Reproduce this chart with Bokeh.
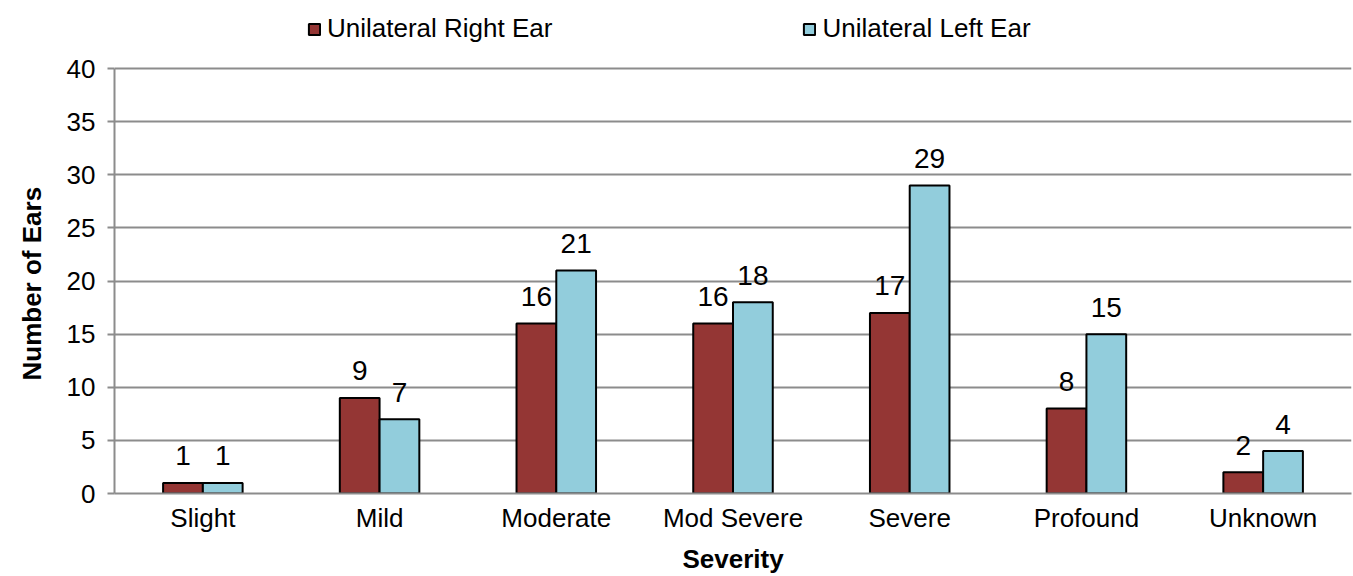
from bokeh.plotting import figure
from bokeh.models import ColumnDataSource, FactorRange, Legend, LegendItem, FixedTicker, Range1d, Title
from bokeh.transform import dodge
from bokeh.core.properties import value
from bokeh.embed import file_html
from bokeh.resources import INLINE

categories = ["Slight", "Mild", "Moderate", "Mod Severe", "Severe", "Profound", "Unknown"]
right_ear = [1, 9, 16, 16, 17, 8, 2]
left_ear = [1, 7, 21, 18, 29, 15, 4]
series_names = ["Unilateral Right Ear", "Unilateral Left Ear"]
y_ticks = [0, 5, 10, 15, 20, 25, 30, 35, 40]

RED = "#943634"
BLUE = "#92CDDC"
GRID = "#8C8C8C"
FONT = "Liberation Sans"

src = ColumnDataSource(data=dict(
    cat=categories,
    right=right_ear,
    left=left_ear,
    right_lab=[str(v) for v in right_ear],
    left_lab=[str(v) for v in left_ear],
))

# extra headroom above 40 keeps the legend inside the frame (axis bounded to 0..40)
p = figure(x_range=FactorRange(*categories, range_padding=0), y_range=Range1d(0, 46.4),
           width=1353, height=576, output_backend="svg", toolbar_location=None,
           min_border_left=112, min_border_right=2, min_border_top=0, min_border_bottom=83)

bw = 0.225
r1 = p.vbar(x=dodge("cat", -bw / 2, range=p.x_range), top="right", width=bw, source=src,
            fill_color=RED, line_color="black", line_width=2)
r2 = p.vbar(x=dodge("cat", bw / 2, range=p.x_range), top="left", width=bw, source=src,
            fill_color=BLUE, line_color="black", line_width=2)

p.text(x=dodge("cat", -bw / 2, range=p.x_range), y="right", text="right_lab", source=src,
       text_align="center", text_baseline="alphabetic", y_offset=-27,
       text_font=value(FONT), text_font_size="28px", text_color="black")
p.text(x=dodge("cat", bw / 2, range=p.x_range), y="left", text="left_lab", source=src,
       text_align="center", text_baseline="alphabetic", y_offset=-27,
       text_font=value(FONT), text_font_size="28px", text_color="black")

p.outline_line_color = None
p.xgrid.grid_line_color = None
p.ygrid.grid_line_color = GRID
p.ygrid.grid_line_width = 2
p.yaxis.ticker = FixedTicker(ticks=y_ticks)
p.yaxis.bounds = (0, 40)

for ax in (p.xaxis[0], p.yaxis[0]):
    ax.axis_line_color = GRID
    ax.axis_line_width = 2
    ax.major_label_text_font = FONT
    ax.major_label_text_font_size = "26px"
    ax.major_label_text_color = "black"
    ax.axis_label_text_font = FONT
    ax.axis_label_text_font_size = "26px"
    ax.axis_label_text_font_style = "bold"
    ax.axis_label_text_color = "black"
    ax.minor_tick_line_color = None

p.xaxis.axis_label = "Severity"
p.xaxis.major_tick_line_color = None
p.xaxis.major_tick_out = 0
p.xaxis.major_tick_in = 0
p.xaxis.major_label_standoff = 9
p.xaxis.axis_label_standoff = 8

p.yaxis.major_tick_line_color = GRID
p.yaxis.major_tick_line_width = 2
p.yaxis.major_tick_out = 7
p.yaxis.major_tick_in = 0
p.yaxis.major_label_standoff = 12

# y-axis title, centred on the 0..40 span rather than the whole frame
ytitle = Title(text="Number of Ears", align="left", vertical_align="middle", offset=113,
               standoff=31, text_font=FONT, text_font_size="26px", text_font_style="bold",
               text_color="black")
p.add_layout(ytitle, "left")

legend = Legend(items=[LegendItem(label=series_names[0], renderers=[r1]),
                       LegendItem(label=series_names[1], renderers=[r2])],
                orientation="horizontal", location=(193, 449),
                glyph_width=14, glyph_height=14, label_standoff=6, spacing=250,
                padding=0, margin=0, border_line_color=None, background_fill_alpha=0,
                label_text_font=FONT, label_text_font_size="26px", label_text_color="black")
p.add_layout(legend)

open("out.html", "w").write(file_html(p, INLINE))
